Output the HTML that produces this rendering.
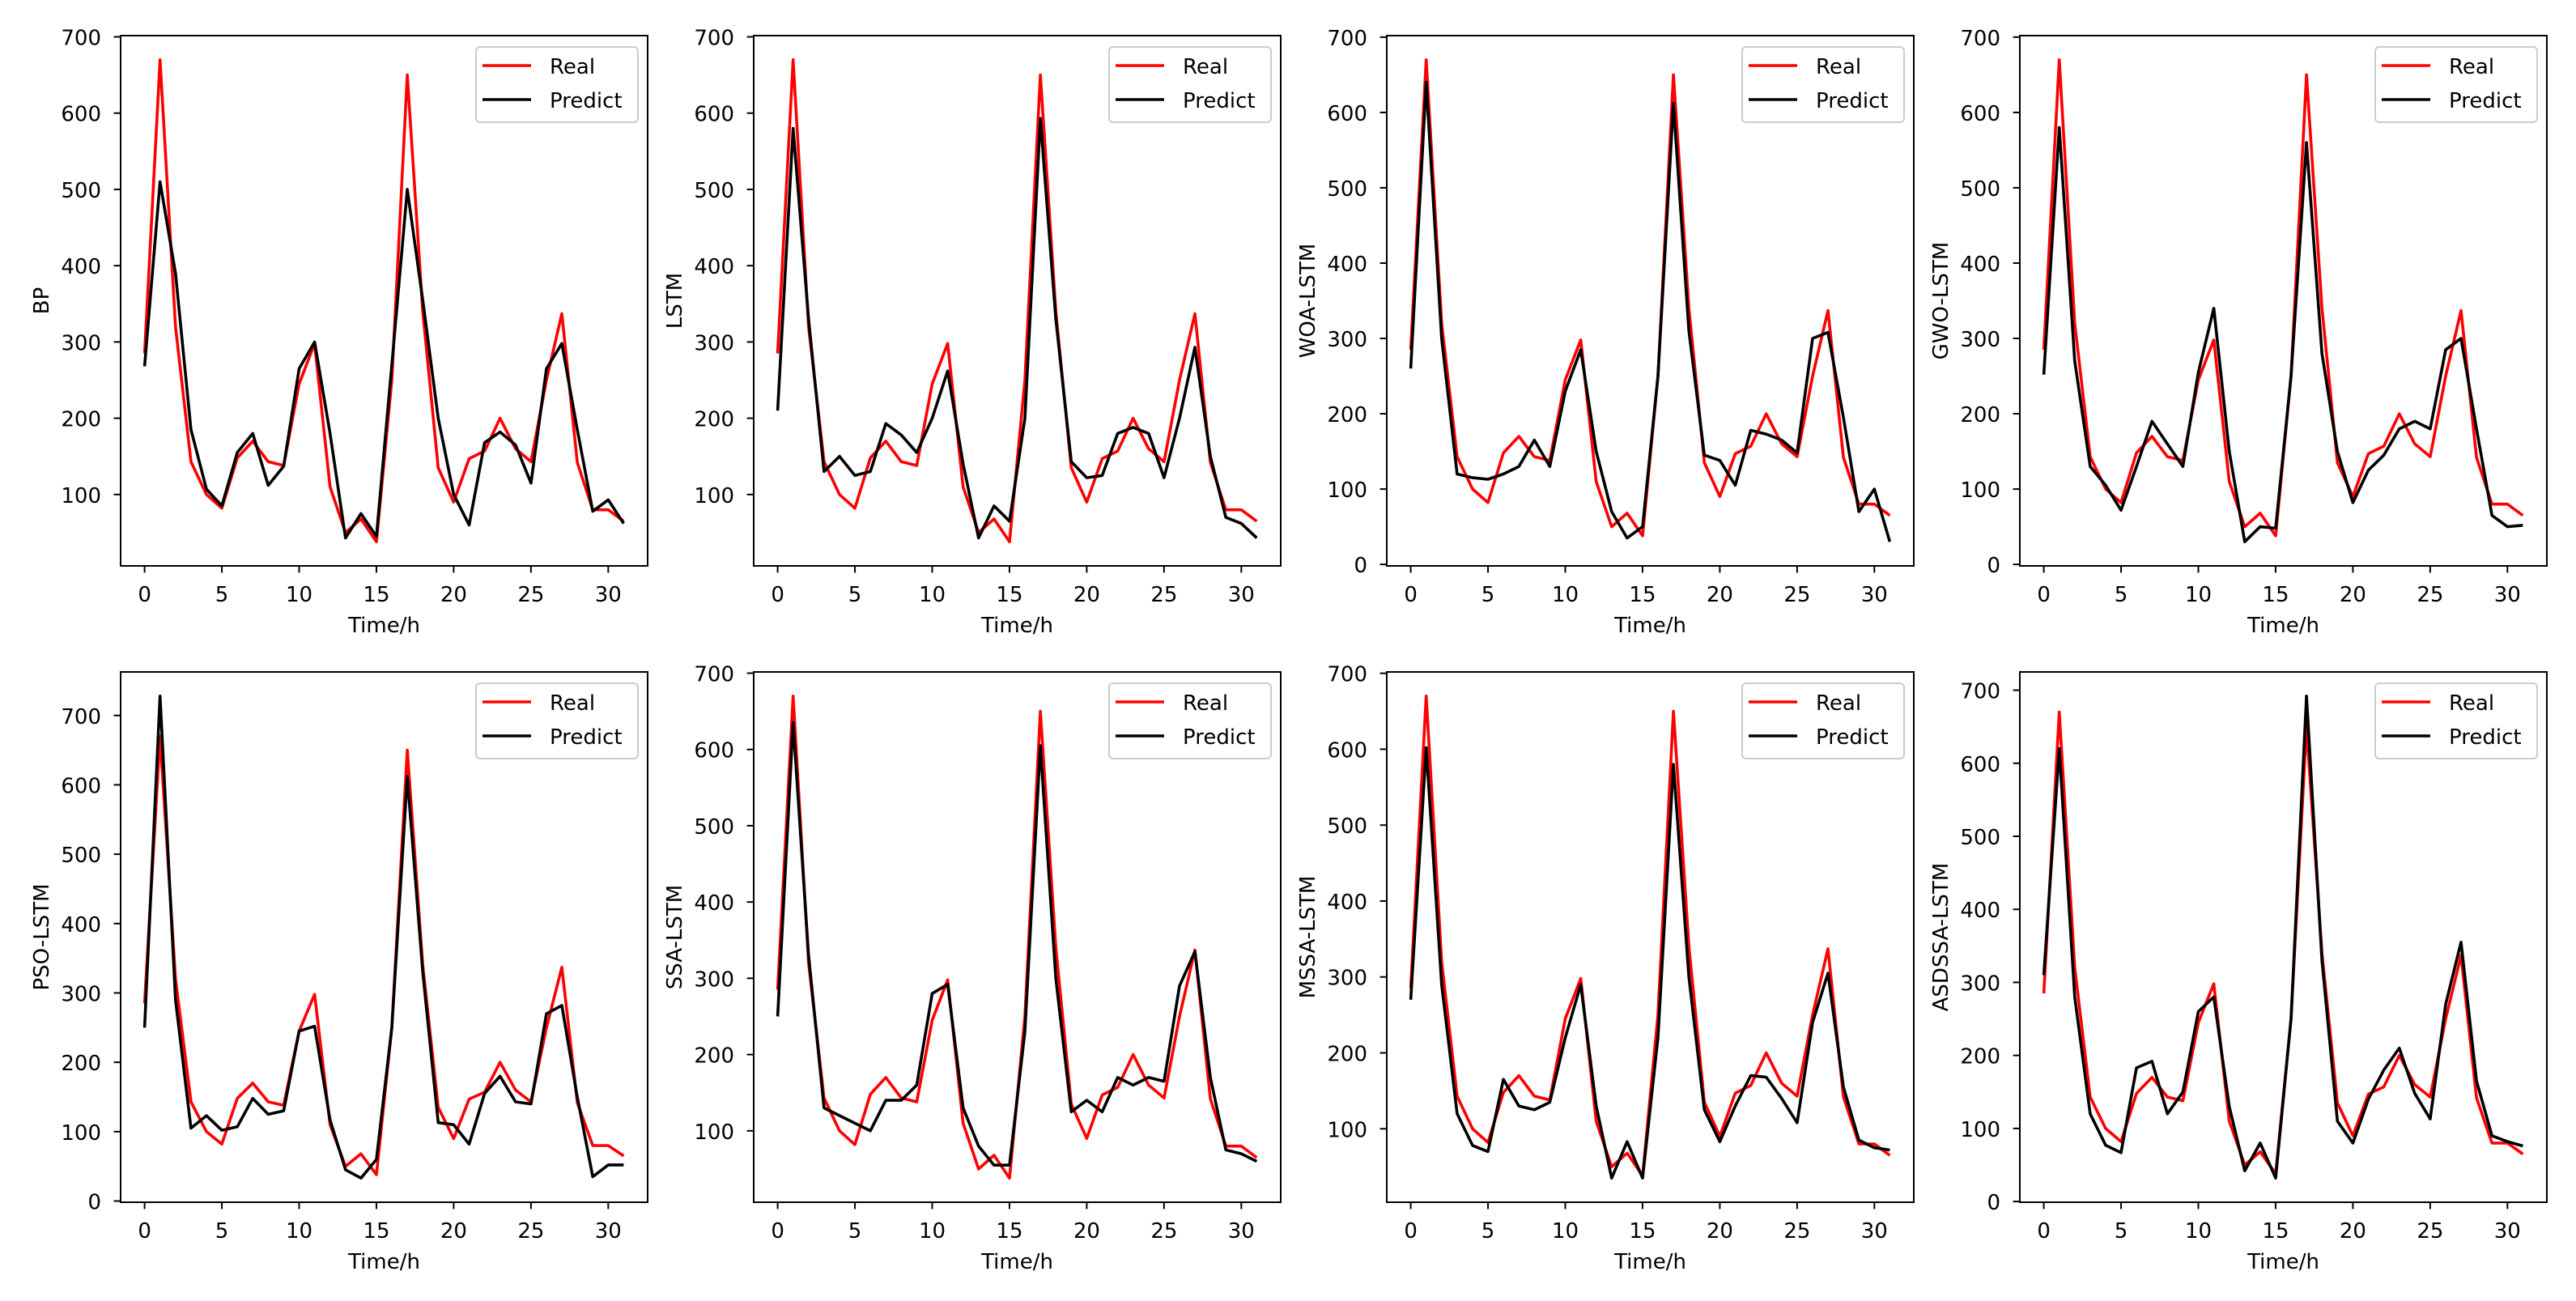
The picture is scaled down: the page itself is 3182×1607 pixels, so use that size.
<!DOCTYPE html>
<html><head><meta charset="utf-8"><style>
html,body{margin:0;padding:0;background:#fff;}
svg text{font-family:"DejaVu Sans","Liberation Sans",sans-serif;fill:#000;}
</style></head>
<body>
<svg id="fig" width="3182" height="1602" viewBox="0 0 3182 1602" xmlns="http://www.w3.org/2000/svg">
<rect x="0" y="0" width="3182" height="1602" fill="#fff"/>
</svg>
<script>
const hours = [0,1,2,3,4,5,6,7,8,9,10,11,12,13,14,15,16,17,18,19,20,21,22,23,24,25,26,27,28,29,30,31];
const realValues = [285,670,320,143,100,82,148,170,143,138,245,298,110,50,68,38,250,650,340,135,90,147,157,200,160,143,250,337,142,80,80,65];
const modelNames = ["BP","LSTM","WOA-LSTM","GWO-LSTM","PSO-LSTM","SSA-LSTM","MSSA-LSTM","ASDSSA-LSTM"];
const predBP = [268,510,390,185,107,85,155,180,112,137,265,300,180,43,75,45,270,500,355,200,100,60,168,182,165,115,265,298,185,78,93,62];
const predLSTM = [210,580,330,130,150,125,130,193,178,155,200,262,140,43,85,65,200,593,330,143,122,125,180,188,180,122,200,293,150,70,62,43];
const predWOA = [260,640,300,120,115,113,120,130,165,130,230,285,150,70,35,50,250,612,310,145,138,105,178,173,165,148,300,308,195,70,100,30];
const predGWO = [252,580,270,130,105,72,130,190,160,130,255,340,150,30,50,48,250,560,280,150,82,125,145,180,190,180,285,300,180,65,50,52];
const predPSO = [250,728,290,105,123,102,107,148,125,130,245,252,117,45,33,60,250,612,330,113,110,82,155,180,143,140,270,282,150,35,52,52];
const predSSA = [250,635,330,130,120,110,100,140,140,160,280,292,130,80,55,55,230,605,300,125,140,125,170,160,170,165,290,335,170,75,70,60];
const predMSSA = [270,602,290,120,78,70,165,130,125,135,220,290,130,35,83,35,220,580,300,125,83,130,170,168,140,108,240,305,155,85,75,72];
const predASDSSA = [310,620,280,120,77,67,183,192,120,150,260,280,130,42,80,32,250,692,330,110,80,140,180,210,148,113,270,355,165,90,82,76];
const xTickValues = [0,5,10,15,20,25,30];
const legendLabels = ["Real","Predict"];

const preds = [predBP,predLSTM,predWOA,predGWO,predPSO,predSSA,predMSSA,predASDSSA];
const NS = "http://www.w3.org/2000/svg";
const fig = document.getElementById('fig');
function mk(tag, attrs, parent){
  const e = document.createElementNS(NS, tag);
  for (const k in attrs) e.setAttribute(k, attrs[k]);
  parent.appendChild(e);
  return e;
}
const lefts = [149,931,1713,2495];
const tops = [44,830];
const W = 651, H = 655;
const FS = 26;

modelNames.forEach((name, i) => {
  const L = lefts[i % 4], T = tops[Math.floor(i / 4)];
  const g = mk('g', {}, fig);
  
  
  const pred = preds[i];
  const all = realValues.concat(pred);
  const mn = Math.min(...all), mx = Math.max(...all);
  const pad = (mx - mn) * 0.05;
  const y0 = mn - pad, y1 = mx + pad;
  const xn = hours.length - 1;
  const x0 = -xn * 0.05, x1 = xn * 1.05;
  const sx = v => L + (v - x0) / (x1 - x0) * W;
  const sy = v => T + H - (v - y0) / (y1 - y0) * H;

  const yg = mk('g', {}, g);
  
  
  for (let v = Math.ceil(y0 / 100) * 100; v <= y1; v += 100) {
    const y = sy(v);
    const tk = mk('line', {x1: L - 8.4, x2: L, y1: y, y2: y, stroke: '#000', 'stroke-width': 2}, yg);
    
    
    const t = mk('text', {x: L - 24, y: y + 10, 'font-size': FS, 'text-anchor': 'end'}, yg);
    
    
    t.textContent = v;
  }
  const xg = mk('g', {}, g);
  
  
  xTickValues.forEach(v => {
    const x = sx(v);
    const tk = mk('line', {x1: x, x2: x, y1: T + H, y2: T + H + 8.4, stroke: '#000', 'stroke-width': 2}, xg);
    
    
    const t = mk('text', {x: x, y: T + H + 44, 'font-size': FS, 'text-anchor': 'middle'}, xg);
    
    
    t.textContent = v;
  });
  const xl = mk('text', {x: L + W / 2, y: T + H + 82, 'font-size': FS, 'text-anchor': 'middle'}, g);
  
  
  xl.textContent = 'Time/h';
  const cy = T + H / 2;
  const yl = mk('text', {x: L - 89, y: cy, 'font-size': FS, 'text-anchor': 'middle', transform: 'rotate(-90 ' + (L - 89) + ' ' + cy + ')'}, g);
  
  
  yl.textContent = name;

  const cid = 'clip' + i;
  const cp = mk('clipPath', {id: cid}, g);
  mk('rect', {x: L, y: T, width: W, height: H}, cp);

  const ptsR = hours.map((h, k) => sx(h).toFixed(1) + ',' + sy(realValues[k]).toFixed(1)).join(' ');
  const lr = mk('polyline', {points: ptsR, fill: 'none', stroke: '#ff0000', 'stroke-width': 3.6, 'stroke-linejoin': 'round', 'clip-path': 'url(#' + cid + ')'}, g);
  
  
  const ptsP = hours.map((h, k) => sx(h).toFixed(1) + ',' + sy(pred[k]).toFixed(1)).join(' ');
  const lp = mk('polyline', {points: ptsP, fill: 'none', stroke: '#000', 'stroke-width': 3.6, 'stroke-linejoin': 'round', 'clip-path': 'url(#' + cid + ')'}, g);
  
  

  const frame = mk('rect', {x: L, y: T, width: W, height: H, fill: 'none', stroke: '#000', 'stroke-width': 2}, g);
  
  

  const lg = mk('g', {}, g);
  
  
  const bx = L + W - 212, by = T + 14;
  mk('rect', {x: bx, y: by, width: 200, height: 93, rx: 5, fill: '#fff', 'fill-opacity': 0.8, stroke: '#cccccc', 'stroke-width': 2}, lg);
  legendLabels.forEach((lab, j) => {
    const ly = by + 23 + j * 42;
    const ll = mk('line', {x1: bx + 8, x2: bx + 68, y1: ly, y2: ly, stroke: j === 0 ? '#ff0000' : '#000', 'stroke-width': 3.6}, lg);
    
    
    const lt = mk('text', {x: bx + 91, y: ly + 10, 'font-size': FS}, lg);
    
    
    lt.textContent = lab;
  });
});
</script>
</body></html>
